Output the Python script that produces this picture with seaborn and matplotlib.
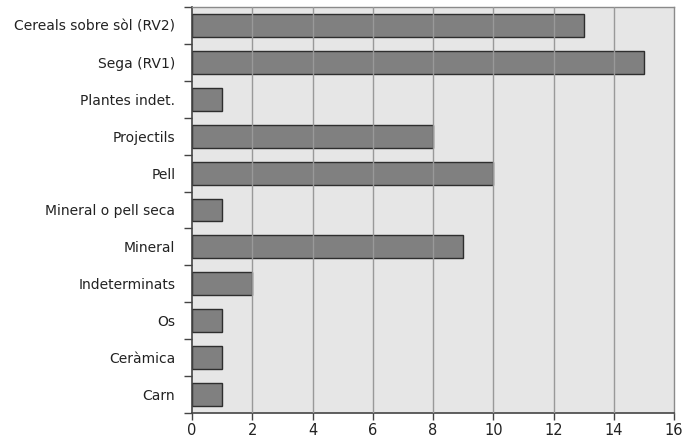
import matplotlib
matplotlib.use('Agg')
import matplotlib.pyplot as plt
import seaborn as sns
import pandas as pd
import numpy as np

categories = ['Cereals sobre sòl (RV2)', 'Sega (RV1)', 'Plantes indet.', 'Projectils',
              'Pell', 'Mineral o pell seca', 'Mineral', 'Indeterminats', 'Os',
              'Ceràmica', 'Carn']
values = [13, 15, 1, 8, 10, 1, 9, 2, 1, 1, 1]
x_ticks = [0, 2, 4, 6, 8, 10, 12, 14, 16]

df = pd.DataFrame({'cat': categories, 'val': values})

sns.set_style('white')
plt.rcParams['font.family'] = ['DejaVu Sans']

fig = plt.figure(figsize=(6.97, 4.41), dpi=100)
ax = fig.add_axes([192 / 697, 1 - 413 / 441, (674 - 192) / 697, (413 - 7) / 441])
ax.set_facecolor('#e6e6e6')

sns.barplot(data=df, x='val', y='cat', orient='h', color='#808080',
            edgecolor='#2e2e2e', linewidth=1.0, width=0.62, saturation=1, ax=ax, zorder=2)

ax.set_xlim(0, 16)
ax.set_ylim(len(categories) - 0.5, -0.5)
ax.set_xticks(x_ticks)
ax.set_xticklabels([str(t) for t in x_ticks], fontsize=10.5, color='#222222')
ax.tick_params(axis='x', bottom=True, length=5, width=1, color='#444444', pad=2)

# category labels without ticks, ticks at the boundaries
ax.set_yticks(range(len(categories)))
ax.set_yticklabels(categories, fontsize=10, color='#222222')
ax.tick_params(axis='y', which='major', left=True, length=0, pad=12)
ax.set_yticks(np.arange(-0.5, len(categories), 1.0), minor=True)
ax.tick_params(axis='y', which='minor', left=True, length=6, width=1, color='#444444')

for t in x_ticks[1:-1]:
    ax.axvline(t, color='#999999', linewidth=1.0, zorder=3)

ax.set_xlabel('')
ax.set_ylabel('')
for side in ['left', 'bottom']:
    ax.spines[side].set_color('#444444')
    ax.spines[side].set_linewidth(1.2)
for side in ['top', 'right']:
    ax.spines[side].set_color('#8a8a8a')
    ax.spines[side].set_linewidth(1.0)

fig.savefig('out.png', dpi=100)
